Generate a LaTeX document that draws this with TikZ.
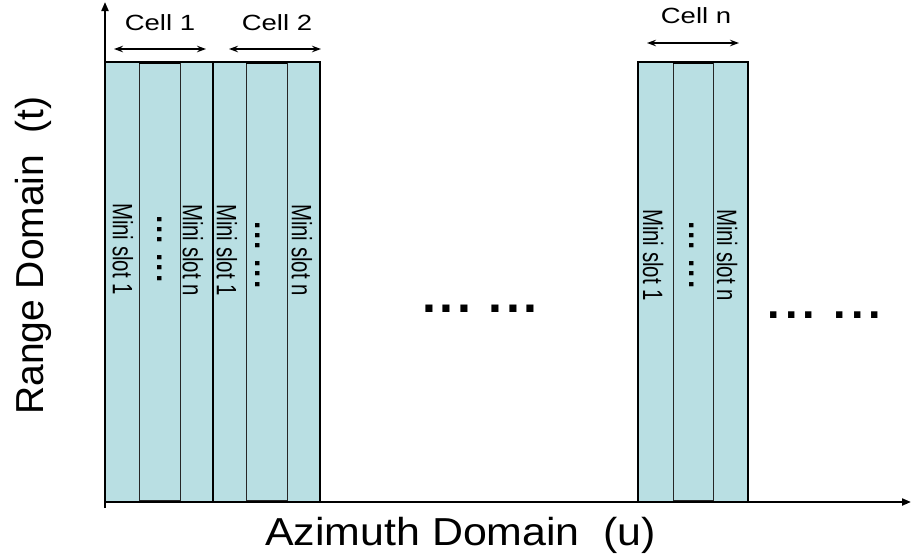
\documentclass[tikz,border=0pt]{standalone}
\usepackage{fontspec}
\setmainfont{Liberation Sans}
\usetikzlibrary{arrows.meta}
\definecolor{slotfill}{HTML}{B9DFE3}
% a row of two groups of three dots: #1 = kern inside a group, #2 = kern between groups
\newcommand{\dotgroups}[2]{.\kern#1.\kern#1.\kern#2.\kern#1.\kern#1.}

\begin{document}
\begin{tikzpicture}[x=1pt,y=-1pt,
  divider/.style={draw=black!85,line width=1pt},
  cellframe/.style={draw=black,line width=1.6pt},
  axis/.style={draw=black,line width=2pt,-{Triangle[length=9pt,width=7pt]}},
  span/.style={draw=black,line width=1.3pt,{Stealth[length=9pt,width=6.5pt]}-{Stealth[length=9pt,width=6.5pt]}},
  celllabel/.style={font=\fontsize{22}{26}\selectfont,inner sep=0pt,anchor=base},
  slotlabel/.style={font=\fontsize{28}{32}\selectfont,inner sep=0pt,rotate=-90},
  slotdots/.style={font=\fontsize{30}{32}\selectfont\bfseries,inner sep=0pt,rotate=-90},
  gapdots/.style={font=\fontsize{50}{52}\selectfont\bfseries,inner sep=0pt},
  axislabel/.style={font=\fontsize{39}{44}\selectfont,inner sep=0pt},
]
\useasboundingbox (0,0) rectangle (912,558);

% cells: left edge, two inner dividers, right edge
\foreach \xa/\xb/\xc/\xd in {105/139/180/213, 213/246/287/320, 638/673/713/748}{
  \fill[slotfill] (\xa,62) rectangle (\xd,502);
  \draw[divider] (\xb,62) -- (\xb,502);
  \draw[divider] (\xc,62) -- (\xc,502);
  \draw[divider] (\xb,63.5) rectangle (\xc,500);
  \draw[line width=2.6pt] (\xb,63) -- (\xc,63);
  \draw[cellframe] (\xa,62) rectangle (\xd,502);
}

% axes
\coordinate (origin) at (105,508);
\coordinate (ytop) at (105,2);
\coordinate (xstart) at (105,502);
\coordinate (xend) at (911,502);
\draw[axis] (origin) -- (ytop);
\draw[axis] (xstart) -- (xend);

% cell spans
\coordinate (s1a) at (114,49);  \coordinate (s1b) at (206,49);
\coordinate (s2a) at (229,49);  \coordinate (s2b) at (321,49);
\coordinate (sna) at (647,43);  \coordinate (snb) at (739,43);
\draw[span] (s1a) -- (s1b);
\draw[span] (s2a) -- (s2b);
\draw[span] (sna) -- (snb);

\node[celllabel] (cell1) at (160,30) {\scalebox{1.25}[1]{Cell 1}};
\node[celllabel] (cell2) at (277,30) {\scalebox{1.25}[1]{Cell 2}};
\node[celllabel] (celln) at (696,23) {\scalebox{1.25}[1]{Cell n}};

% mini slot labels
\node[slotlabel] (c1s1) at (123,249) {\scalebox{0.73}[1]{Mini slot 1}};
\node[slotdots]  (c1d)  at (160,249) {\dotgroups{1.8pt}{9.5pt}};
\node[slotlabel] (c1sn) at (193,250) {\scalebox{0.73}[1]{Mini slot n}};
\node[slotlabel] (c2s1) at (227,250) {\scalebox{0.73}[1]{Mini slot 1}};
\node[slotdots]  (c2d)  at (258,255) {\dotgroups{1.8pt}{9.5pt}};
\node[slotlabel] (c2sn) at (302,250) {\scalebox{0.73}[1]{Mini slot n}};
\node[slotlabel] (cns1) at (653,255) {\scalebox{0.73}[1]{Mini slot 1}};
\node[slotdots]  (cnd)  at (692,255) {\dotgroups{1.8pt}{9.5pt}};
\node[slotlabel] (cnsn) at (727,255) {\scalebox{0.73}[1]{Mini slot n}};

% gaps between cells
\node[gapdots] (gap1) at (480,308.5) {\dotgroups{3.5pt}{17.5pt}};
\node[gapdots,font=\fontsize{45}{48}\selectfont\bfseries] (gap2) at (824.5,315.5) {\dotgroups{5pt}{18.5pt}};

% axis labels
\node[axislabel,rotate=90,anchor=base] (ylabel) at (43,255.5) {Range Domain\ \ (t)};
\node[axislabel,anchor=base west] (xlabel) at (265,545) {\scalebox{1.1}[1]{Azimuth Domain\ \ (u)}};
\end{tikzpicture}
\end{document}
